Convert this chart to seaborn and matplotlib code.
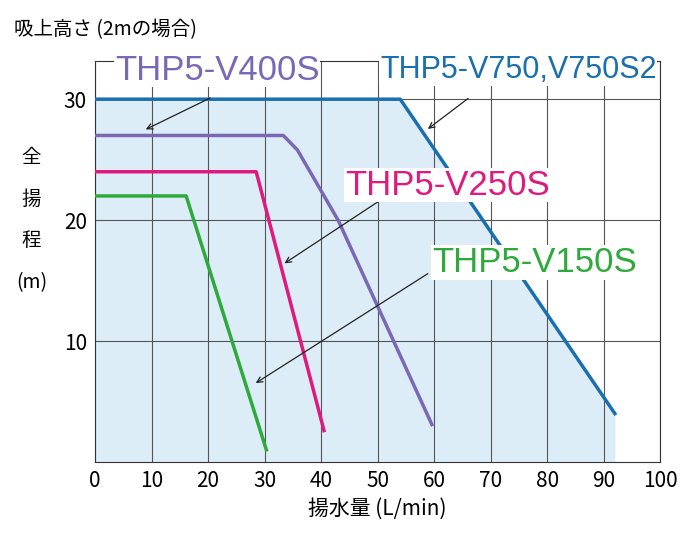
import matplotlib
matplotlib.use("Agg")
import matplotlib.pyplot as plt
import seaborn as sns
import pandas as pd

plt.rcParams["font.family"] = "Noto Sans CJK JP"

v750_x = [0, 54, 92]
v750_y = [30, 30, 4]
v400_x = [0, 33.3, 35.8, 43, 59.6]
v400_y = [27, 27, 25.8, 20, 3.1]
v250_x = [0, 28.5, 40.5]
v250_y = [24, 24, 2.6]
v150_x = [0, 16.1, 30.3]
v150_y = [22, 22, 1.0]
names = ["THP5-V750,V750S2", "THP5-V400S", "THP5-V250S", "THP5-V150S"]
colors = ["#1a6fae", "#7b68b5", "#e0197d", "#2eaa3c"]

rows = []
for n, xs, ys in zip(names, [v750_x, v400_x, v250_x, v150_x], [v750_y, v400_y, v250_y, v150_y]):
    for x, y in zip(xs, ys):
        rows.append({"name": n, "q": x, "h": y})
df = pd.DataFrame(rows)

fig = plt.figure(figsize=(7, 5.5), dpi=100)
ax = fig.add_axes([0.136, 0.16, 0.807, 0.73])
ax.fill_between(v750_x + [v750_x[-1]], v750_y + [0], color="#dcedf8", zorder=0, lw=0)
sns.lineplot(data=df, x="q", y="h", hue="name", palette=dict(zip(names, colors)),
             sort=False, lw=2.5, legend=False, ax=ax, zorder=3)
ax.set_xlim(0, 100)
ax.set_ylim(0, 33.2)
ax.set_xticks(range(0, 101, 10))
ax.set_yticks([10, 20, 30])
ax.grid(True, color="#555555", lw=0.8)
ax.set_axisbelow(True)
for s in ax.spines.values():
    s.set_color("#333333")
ax.tick_params(length=0, labelsize=15, pad=6)
ax.set_xlabel("揚水量 (L/min)", fontsize=15)
ax.set_ylabel("")
fig.text(0.02, 0.965, "吸上高さ (2mの場合)", fontsize=14, va="top")
fig.text(0.045, 0.6, "全\n\n揚\n\n程\n\n(m)", fontsize=14, ha="center", va="center", linespacing=1.0)

# (text, text pos, font size, arrow start, arrow end, color)
ann = [
    ("THP5-V400S", (3.5, 32.4), 25, (20.8, 30.2), (8.5, 27.4), colors[1]),
    ("THP5-V750,V750S2", (50.4, 32.4), 22, (66.4, 30.2), (58.5, 27.4), colors[0]),
    ("THP5-V250S", (44.2, 22.9), 25, (51.3, 21.9), (33.1, 16.3), colors[2]),
    ("THP5-V150S", (59.6, 16.5), 25, (59.3, 15.7), (28.0, 6.4), colors[3]),
]
for t, tp, fs, a0, a1, c in ann:
    ax.annotate("", xy=a1, xytext=a0,
                arrowprops=dict(arrowstyle="->", color="#222222", lw=0.9), zorder=5,
                annotation_clip=False)
    ax.text(tp[0], tp[1], t, color=c, fontsize=fs, fontfamily="Liberation Sans",
            ha="left", va="center", zorder=6, clip_on=False,
            bbox=dict(facecolor="white", edgecolor="none", pad=0.5))

fig.savefig("out.png", dpi=100)
